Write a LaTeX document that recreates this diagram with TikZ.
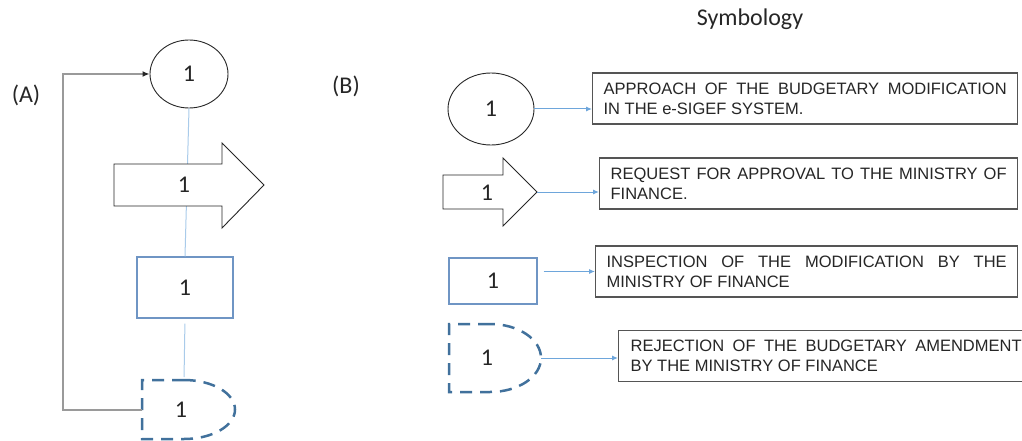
\documentclass[tikz,border=0pt]{standalone}
\usepackage{fontspec}
\setmainfont{Carlito}
\newfontfamily\labelfont{Liberation Sans}
\usetikzlibrary{arrows.meta,calc,shapes.geometric}
\definecolor{linkblue}{HTML}{A9CBEA}
\definecolor{arrowblue}{HTML}{6EA6DB}
\definecolor{boxblue}{HTML}{6F95C4}
\definecolor{dashblue}{HTML}{41719C}
\definecolor{loopgray}{HTML}{9A9A9A}
\definecolor{frame}{HTML}{555555}
\definecolor{ink}{HTML}{262626}
\tikzset{
  num/.style={font=\fontsize{24}{28}\selectfont, text=ink, inner sep=0pt},
  outline/.style={draw=ink, line width=0.9pt, fill=white},
  bluebox/.style={draw=boxblue, line width=1.2pt, fill=white},
  dashshape/.style={draw=dashblue, line width=2.5pt, dash pattern=on 12pt off 8pt, fill=white},
  link/.style={draw=linkblue, line width=1pt},
  pointer/.style={draw=arrowblue, line width=1pt, -{Latex[length=6pt,width=5pt]}},
  loopback/.style={draw=loopgray, line width=1.5pt, -{Latex[length=7pt,width=6pt,color=ink]}},
  legend/.style={draw=frame, line width=1.3pt, fill=white, anchor=west,
    font=\labelfont\fontsize{16.5}{20}\selectfont, text=ink, align=justify,
    inner xsep=11pt, minimum height=51pt},
}
\begin{document}
\begin{tikzpicture}[x=1pt, y=-1pt]
\useasboundingbox (0,0) rectangle (1022,441);

% ---------- (A) process chain ----------
\node[num, anchor=base] (labA) at (26,103) {(A)};

\node[outline, ellipse, minimum width=78pt, minimum height=68pt, num] (eA) at (189,74) {1};
\node[bluebox, minimum width=96pt, minimum height=61pt, num] (rA) at (185,287.5) {1};
\coordinate (dAn) at (184,380);
\coordinate (dAw) at (142,410);

% light connectors between the steps
\draw[link] (eA.south) -- (rA.north);
\draw[link, shorten <=5pt, shorten >=3pt] (rA.south) -- (dAn);

% request arrow (drawn over the connector)
\draw[outline] (114,164) -- (222,164) -- (222,143) -- (264,185) -- (222,228)
  -- (222,206) -- (114,206) -- cycle;
\node[num] (aA) at (184,185) {1};

% rejection (delay) symbol
\draw[dashshape] (184,380) -- (142,380) -- (142,439) -- (184,439)
  .. controls (212.2,439) and (235,425.8) .. (235,409.5)
  .. controls (235,393.2) and (212.2,380) .. (184,380) -- cycle;
\node[num] (dA) at (181,410) {1};

% loop back to the start
\draw[loopback] (dAw) -- ++(-79,0) |- (eA.west);

% ---------- (B) symbology ----------
\node[num, anchor=base] (labB) at (346,94) {(B)};
\node[num, anchor=base] (title) at (750,26) {Symbology};

\node[outline, ellipse, minimum width=86pt, minimum height=72pt, num] (eB) at (491,109) {1};

\draw[outline] (443,175) -- (503,175) -- (503,158) -- (537,192) -- (503,226)
  -- (503,209) -- (443,209) -- cycle;
\node[num] (aB) at (487,193) {1};
\coordinate (aBtip) at (537,192);

\node[bluebox, minimum width=88pt, minimum height=46pt, num] (rB) at (493,281) {1};

\draw[dashshape] (490,324) -- (449,324) -- (449,392) -- (490,392)
  .. controls (518.2,392) and (541,376.8) .. (541,358)
  .. controls (541,339.2) and (518.2,324) .. (490,324) -- cycle;
\node[num] (dB) at (487,358) {1};
\coordinate (dBe) at (541,358);

% descriptions
\node[legend, text width=403pt] (b1) at (592,98.5)
  {APPROACH OF THE BUDGETARY MODIFICATION\linebreak IN THE e-SIGEF SYSTEM.};
\node[legend, text width=396pt] (b2) at (599,183.5)
  {REQUEST FOR APPROVAL TO THE MINISTRY OF\linebreak FINANCE.};
\node[legend, text width=400pt] (b3) at (595,271.5)
  {INSPECTION OF THE MODIFICATION BY THE\linebreak MINISTRY OF FINANCE};
\node[legend, text width=391pt, inner xsep=12pt] (b4) at (618,356)
  {REJECTION OF THE BUDGETARY AMENDMENT\linebreak BY THE MINISTRY OF FINANCE};

% symbol -> description pointers
\draw[pointer] (eB.east) -- (eB.east -| b1.west);
\draw[pointer] (aBtip) -- (aBtip -| b2.west);
\draw[pointer] ([xshift=6pt]rB.east |- b3.west) -- (b3.west);
\draw[pointer] (dBe) -- (dBe -| b4.west);
\end{tikzpicture}
\end{document}
